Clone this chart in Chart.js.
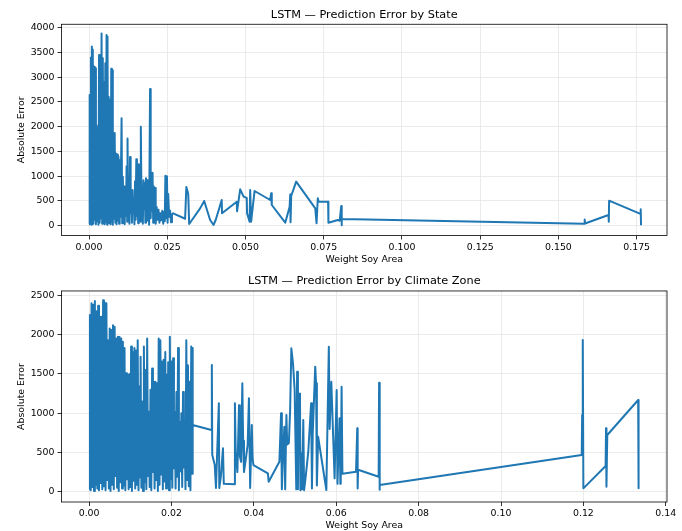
<!DOCTYPE html>
<html>
<head>
<meta charset="utf-8">
<script src="https://cdn.jsdelivr.net/npm/chart.js@4.4.1/dist/chart.umd.min.js"></script>
<style>
  html, body { margin: 0; padding: 0; background: #fff; }
  #wrap { position: relative; width: 682px; height: 531px; }
  .panel { position: absolute; left: 0; width: 682px; }
</style>
</head>
<body>
<div id="wrap">
  <div class="panel" style="top:0;height:266px"><canvas id="state-chart" width="682" height="266"></canvas></div>
  <div class="panel" style="top:266px;height:265px"><canvas id="zone-chart" width="682" height="265"></canvas></div>
</div>
<script>
// ------------------------------------------------------------
//  Datos — panel superior (por estado)
// ------------------------------------------------------------
const stateX = [
  0.0000, 0.0002, 0.0004, 0.0006, 0.0008, 0.0009, 0.0011, 0.0012, 0.0014, 0.0016,
  0.0018, 0.0020, 0.0022, 0.0024, 0.0026, 0.0028, 0.0030, 0.0032, 0.0034, 0.0036,
  0.0038, 0.0040, 0.0042, 0.0044, 0.0046, 0.0048, 0.0050, 0.0052, 0.0054, 0.0056,
  0.0058, 0.0059, 0.0061, 0.0063, 0.0065, 0.0067, 0.0069, 0.0071, 0.0073, 0.0074,
  0.0076, 0.0078, 0.0080, 0.0082, 0.0084, 0.0086, 0.0088, 0.0090, 0.0092, 0.0094,
  0.0096, 0.0098, 0.0100, 0.0102, 0.0104, 0.0106, 0.0108, 0.0110, 0.0112, 0.0114,
  0.0116, 0.0118, 0.0120, 0.0122, 0.0123, 0.0125, 0.0127, 0.0129, 0.0131, 0.0133,
  0.0135, 0.0137, 0.0139, 0.0141, 0.0143, 0.0145, 0.0147, 0.0149, 0.0151, 0.0153,
  0.0155, 0.0157, 0.0159, 0.0161, 0.0163, 0.0165, 0.0166, 0.0168, 0.0170, 0.0172,
  0.0174, 0.0176, 0.0178, 0.0180, 0.0182, 0.0184, 0.0186, 0.0188, 0.0190, 0.0192,
  0.0195, 0.0197, 0.0199, 0.0201, 0.0203, 0.0205, 0.0207, 0.0209, 0.0211, 0.0213,
  0.0216, 0.0219, 0.0222, 0.0225, 0.0228, 0.0231, 0.0234, 0.0237, 0.0240, 0.0242,
  0.0244, 0.0246, 0.0249, 0.0251, 0.0253, 0.0256, 0.0259, 0.0262, 0.0265, 0.0269,
  0.0307, 0.0311, 0.0317, 0.0320, 0.0355, 0.0368, 0.0387, 0.0398, 0.0405, 0.0424,
  0.0425, 0.0472, 0.0473, 0.0483, 0.0494, 0.0504, 0.0505, 0.0513, 0.0515, 0.0518,
  0.0529, 0.0579, 0.0582, 0.0584, 0.0627, 0.0641, 0.0643, 0.0644, 0.0646, 0.0662,
  0.0723, 0.0727, 0.0731, 0.0734, 0.0764, 0.0765, 0.0795, 0.0801, 0.0806, 0.0807,
  0.0808, 0.1583, 0.1584, 0.1585, 0.1660, 0.1661, 0.1662, 0.1762, 0.1763, 0.1764,
]
const stateErr = [
  30, 2640, 60, 3400, 20, 3620, 80, 3560, 40, 3210,
  120, 3180, 30, 2030, 90, 1990, 20, 3450, 60, 3300,
  150, 3880, 40, 3380, 100, 2900, 30, 3280, 70, 3850,
  20, 3820, 110, 2600, 50, 2540, 30, 3170, 80, 3140,
  20, 1860, 140, 1870, 60, 1460, 30, 1440, 100, 1400,
  40, 1320, 180, 1100, 2170, 50, 990, 120, 790, 30,
  770, 200, 1200, 80, 1760, 150, 920, 40, 1390, 250,
  590, 60, 720, 300, 520, 30, 900, 120, 1340, 200,
  650, 50, 1240, 310, 990, 80, 2000, 240, 620, 40,
  920, 330, 860, 60, 960, 280, 920, 100, 650, 20,
  2760, 150, 790, 300, 1070, 60, 790, 250, 760, 40,
  380, 120, 320, 60, 250, 110, 300, 40, 280, 90,
  1010, 150, 1000, 60, 640, 180, 300, 70, 230, 250,
  140, 780, 640, 35, 350, 500, 115, 15, 120, 520,
  250, 485, 290, 735, 586, 560, 250, 81, 721, 81,
  701, 519, 654, 418, 60, 380, 630, 70, 600, 890,
  351, 50, 553, 485, 485, 60, 115, 100, 400, 10,
  135, 40, 125, 45, 215, 80, 505, 240, 330, 10,
]
const stateXTicks = [0, 0.025, 0.05, 0.075, 0.1, 0.125, 0.15, 0.175]
const stateYTicks = [0, 500, 1000, 1500, 2000, 2500, 3000, 3500, 4000]

// ------------------------------------------------------------
//  Datos — panel inferior (por zona climática)
// ------------------------------------------------------------
const zoneX = [
  0.0000, 0.0002, 0.0004, 0.0006, 0.0008, 0.0010, 0.0012, 0.0014, 0.0016, 0.0018,
  0.0020, 0.0022, 0.0024, 0.0026, 0.0028, 0.0030, 0.0032, 0.0034, 0.0036, 0.0038,
  0.0040, 0.0042, 0.0044, 0.0046, 0.0048, 0.0050, 0.0052, 0.0054, 0.0056, 0.0058,
  0.0060, 0.0062, 0.0064, 0.0066, 0.0068, 0.0070, 0.0072, 0.0074, 0.0076, 0.0078,
  0.0080, 0.0082, 0.0084, 0.0086, 0.0088, 0.0090, 0.0092, 0.0094, 0.0096, 0.0098,
  0.0100, 0.0102, 0.0104, 0.0106, 0.0108, 0.0110, 0.0112, 0.0114, 0.0116, 0.0118,
  0.0120, 0.0122, 0.0124, 0.0125, 0.0127, 0.0129, 0.0131, 0.0133, 0.0135, 0.0137,
  0.0139, 0.0141, 0.0143, 0.0145, 0.0147, 0.0149, 0.0151, 0.0153, 0.0155, 0.0157,
  0.0159, 0.0161, 0.0163, 0.0165, 0.0167, 0.0169, 0.0171, 0.0173, 0.0175, 0.0177,
  0.0179, 0.0181, 0.0183, 0.0185, 0.0187, 0.0189, 0.0191, 0.0192, 0.0194, 0.0196,
  0.0198, 0.0200, 0.0202, 0.0204, 0.0206, 0.0208, 0.0210, 0.0212, 0.0214, 0.0216,
  0.0218, 0.0220, 0.0222, 0.0224, 0.0226, 0.0228, 0.0230, 0.0232, 0.0234, 0.0236,
  0.0238, 0.0240, 0.0242, 0.0244, 0.0246, 0.0248, 0.0250, 0.0251, 0.0252,
  0.0297, 0.0298, 0.0299, 0.0305, 0.0308, 0.0315, 0.0316, 0.0320, 0.0325, 0.0327,
  0.0353, 0.0354, 0.0356, 0.0360, 0.0364, 0.0366, 0.0369, 0.0372, 0.0374, 0.0376,
  0.0380, 0.0385, 0.0388, 0.0391, 0.0395, 0.0397, 0.0399, 0.0434, 0.0436, 0.0462,
  0.0466, 0.0468, 0.0471, 0.0474, 0.0476, 0.0479, 0.0481, 0.0485, 0.0488, 0.0491,
  0.0495, 0.0499, 0.0503, 0.0505, 0.0507, 0.0509, 0.0512, 0.0513, 0.0515, 0.0517,
  0.0520, 0.0522, 0.0526, 0.0532, 0.0539, 0.0541, 0.0543, 0.0549, 0.0551, 0.0553,
  0.0556, 0.0576, 0.0582, 0.0584, 0.0588, 0.0596, 0.0601, 0.0603, 0.0608, 0.0610,
  0.0611, 0.0613, 0.0615, 0.0648, 0.0651, 0.0652, 0.0653, 0.0703, 0.0704, 0.0705,
  0.0706, 0.1196, 0.1197, 0.1198, 0.1199, 0.1200, 0.1254, 0.1255, 0.1256, 0.1258,
  0.1333, 0.1334,
]
const zoneErr = [
  30, 2250, 20, 2400, 60, 2380, 10, 2430, 90, 2300,
  40, 2370, 20, 2230, 110, 2230, 30, 2440, 70, 2410,
  20, 2400, 150, 1930, 40, 2080, 10, 2060, 90, 2120,
  30, 2100, 200, 1950, 50, 1975, 10, 1970, 120, 1950,
  40, 1910, 80, 1830, 20, 1510, 160, 1490, 30, 1500,
  60, 1850, 10, 1780, 140, 1830, 40, 1800, 90, 1930,
  20, 1340, 180, 1720, 50, 1150, 10, 1850, 120, 1550,
  30, 1950, 200, 1020, 60, 1300, 20, 1570, 250, 1400,
  40, 1400, 150, 1380, 10, 1950, 90, 1930, 220, 1660,
  30, 1680, 130, 1780, 40, 1490, 280, 1650, 20, 1975,
  160, 1660, 50, 1700, 300, 1020, 40, 1270, 190, 1830,
  20, 890, 260, 1000, 60, 1270, 310, 850, 30, 1930,
  150, 1610, 70, 1400, 20, 1850, 230, 1830, 850,
  786, 1614, 470, 340, 47, 1126, 47, 200, 553, 100,
  94, 1126, 500, 250, 1100, 450, 380, 1381, 650, 250,
  400, 600, 1190, 47, 850, 420, 340, 234, 127, 382,
  998, 30, 500, 828, 30, 977, 600, 620, 1032, 1826,
  1635, 1300, 30, 1529, 30, 1232, 1250, 20, 489, 30,
  913, 20, 200, 500, 1126, 40, 750, 1593, 1381, 80,
  700, 22, 1847, 800, 1400, 170, 1295, 100, 935, 100,
  180, 1338, 230, 255, 808, 40, 280, 191, 1389, 24,
  85, 467, 977, 470, 1932, 43, 327, 807, 64, 722,
  1168, 43,
]
const zoneXTicks = [0, 0.02, 0.04, 0.06, 0.08, 0.1, 0.12, 0.14]
const zoneYTicks = [0, 500, 1000, 1500, 2000, 2500]

// ------------------------------------------------------------
//  Estilo común
// ------------------------------------------------------------
const FONT = "'DejaVu Sans', sans-serif"
const LINE_COLOR = '#1f77b4'
const GRID_COLOR = '#e6e6e6'
const TEXT_COLOR = '#000'

// marco completo alrededor del área (como los spines de matplotlib)
const spinesPlugin = {
  id: 'spines',
  afterDatasetsDraw(chart) {
    const { ctx, chartArea: a } = chart
    ctx.save()
    ctx.strokeStyle = '#000'
    ctx.lineWidth = 0.8
    ctx.strokeRect(a.left, a.top, a.right - a.left, a.bottom - a.top)
    ctx.restore()
  }
}

function makePanel(canvasId, opts) {
  const ctx = document.getElementById(canvasId).getContext('2d')
  const points = opts.xs.map((x, i) => ({ x, y: opts.ys[i] }))

  return new Chart(ctx, {
    type: 'scatter',
    data: {
      datasets: [{
        data:             points,
        showLine:         true,
        borderColor:      LINE_COLOR,
        borderWidth:      2,
        borderJoinStyle:  'round',
        pointRadius:      0,
        pointHoverRadius: 0,
        fill:             false,
      }]
    },
    options: {
      responsive: false,
      animation:  false,
      events:     [],
      layout: { padding: { left: 0, right: 15, top: 0, bottom: 0 } },
      plugins: {
        legend:  { display: false },
        tooltip: { enabled: false },
        title: {
          display:  true,
          fullSize: false,
          text:     opts.title,
          color:    TEXT_COLOR,
          font:     { family: FONT, size: 11.3, weight: 'normal' },
          padding:  { top: opts.titleTop, bottom: opts.titleBottom },
        },
      },
      scales: {
        x: {
          type: 'linear',
          min:  opts.xMin,
          max:  opts.xMax,
          afterBuildTicks: s => { s.ticks = opts.xTicks.map(v => ({ value: v })) },
          afterFit: s => { s.height = opts.xAxisHeight },
          ticks: {
            color: TEXT_COLOR,
            font:  { family: FONT, size: 9.4 },
            padding: 2,
            maxRotation: 0,
            callback: v => v.toFixed(opts.xDigits),
          },
          grid:   { color: GRID_COLOR, lineWidth: 0.8, tickColor: '#000', tickLength: 4 },
          border: { display: false },
          title: {
            display: true,
            text:    'Weight Soy Area',
            color:   TEXT_COLOR,
            font:    { family: FONT, size: 9.4 },
            padding: { top: 0, bottom: opts.xTitlePad },
          },
        },
        y: {
          type: 'linear',
          min:  opts.yMin,
          max:  opts.yMax,
          afterBuildTicks: s => { s.ticks = opts.yTicks.map(v => ({ value: v })) },
          afterFit: s => { s.width = 61.5 },
          ticks: {
            color: TEXT_COLOR,
            font:  { family: FONT, size: 9.4 },
            padding: 3,
            callback: v => String(v),
          },
          grid:   { color: GRID_COLOR, lineWidth: 0.8, tickColor: '#000', tickLength: 4 },
          border: { display: false },
          title: {
            display: true,
            text:    'Absolute Error',
            color:   TEXT_COLOR,
            font:    { family: FONT, size: 9.4 },
            padding: { top: 15.5, bottom: 0 },
          },
        },
      },
    },
    plugins: [spinesPlugin],
  })
}

// ------------------------------------------------------------
//  Dibujar ambos paneles
// ------------------------------------------------------------
makePanel('state-chart', {
  title: 'LSTM — Prediction Error by State',
  xs: stateX, ys: stateErr,
  xTicks: stateXTicks, yTicks: stateYTicks,
  xMin: -0.0088, xMax: 0.1847, yMin: -198, yMax: 4069,
  xDigits: 3,
  titleTop: 8, titleBottom: 2.7,
  xAxisHeight: 30.5, xTitlePad: 0.6,
})

makePanel('zone-chart', {
  title: 'LSTM — Prediction Error by Climate Zone',
  xs: zoneX, ys: zoneErr,
  xTicks: zoneXTicks, yTicks: zoneYTicks,
  xMin: -0.0067, xMax: 0.1403, yMin: -131, yMax: 2557,
  xDigits: 2,
  titleTop: 8, titleBottom: 3.4,
  xAxisHeight: 29, xTitlePad: 0,
})
</script>
</body>
</html>
